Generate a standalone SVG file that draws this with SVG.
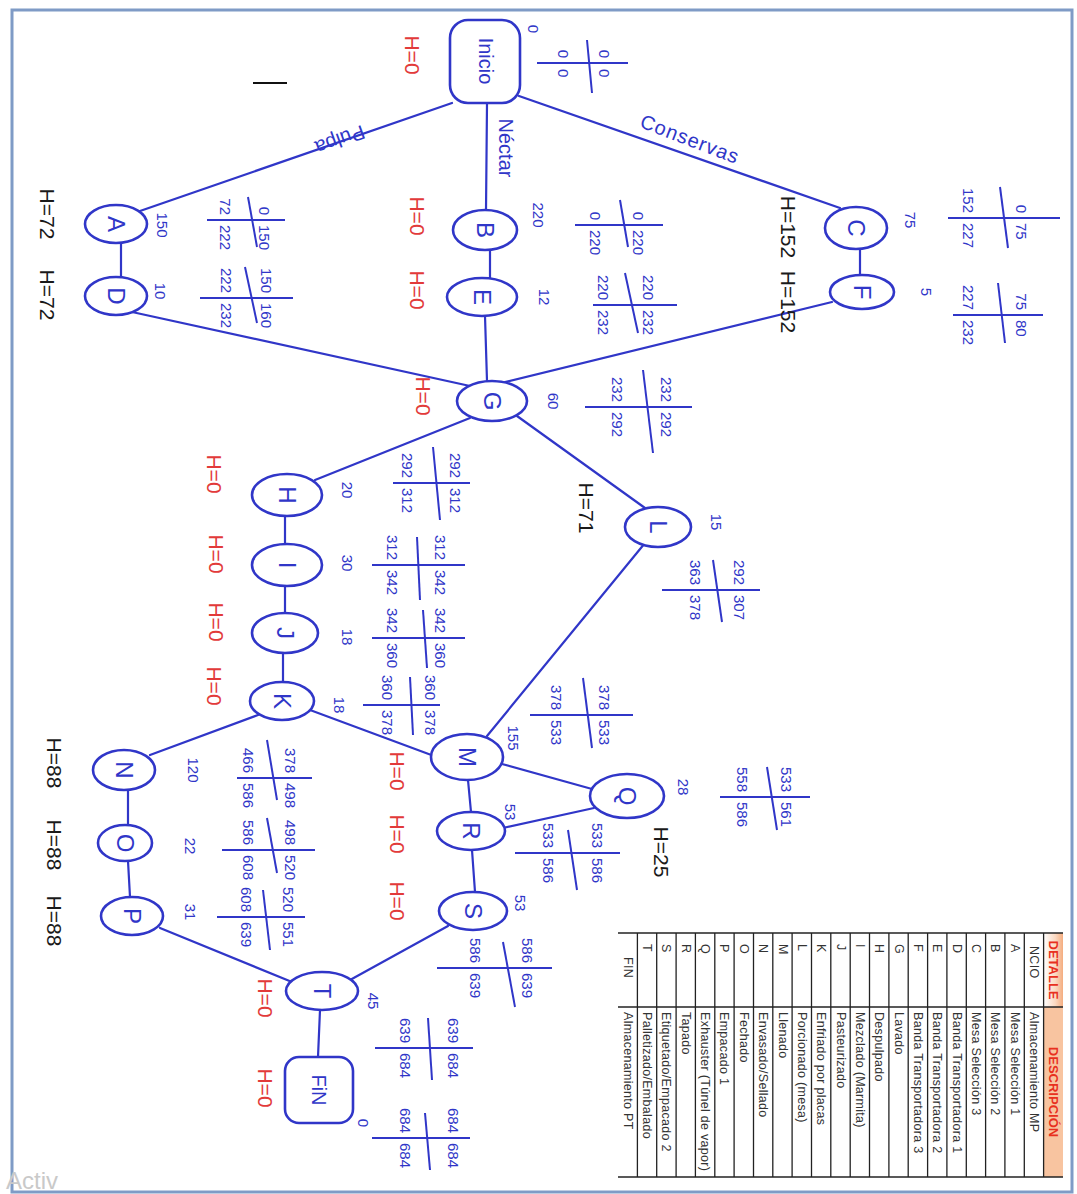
<svg xmlns="http://www.w3.org/2000/svg" width="1077" height="1194" viewBox="0 0 1077 1194">
<defs>
<linearGradient id="hdr" x1="0" y1="0" x2="1" y2="0"><stop offset="0" stop-color="#ffffff"/><stop offset="0.6" stop-color="#fbd9c2"/><stop offset="1" stop-color="#f4ad80"/></linearGradient>
</defs>
<style>
.edge{stroke:#3036c8;stroke-width:2.2;fill:none;stroke-linecap:round}
.node{fill:#fff;stroke:#3036c8;stroke-width:2.6}
.cr line{stroke:#3036c8;stroke-width:2}
text{font-family:"Liberation Sans",Arial,sans-serif;dominant-baseline:central}
.nm{fill:#3036c8;font-size:24px;text-anchor:middle}
.lb{fill:#3036c8;font-size:20px;text-anchor:middle}
.d{fill:#3036c8;font-size:15px;text-anchor:middle}
.n{fill:#3036c8;font-size:15px}
.t{text-anchor:end}
.s{text-anchor:start}
.hr{fill:#e23a3a;font-size:21px;text-anchor:middle}
.hk{fill:#1a1a1a;font-size:21px;text-anchor:middle}
.tb{fill:#333;font-size:12.5px;text-anchor:start;letter-spacing:0.3px}
.th{fill:#e8301e;font-size:13px;font-weight:bold;text-anchor:middle}
.tl{stroke:#222;stroke-width:1.3}
</style>
<rect x="0" y="0" width="1077" height="1194" fill="#fff"/>
<rect x="12" y="10" width="1060" height="1182" fill="none" stroke="#7f9bc6" stroke-width="3"/>
<line x1="253" y1="83" x2="287" y2="83" stroke="#111" stroke-width="2"/>
<text x="6" y="1180" fill="#c9c9c9" font-size="24">Activ</text>

<g id="connectors">
<line class="edge" x1="452" y1="103" x2="140" y2="211"/>
<line class="edge" x1="487" y1="104" x2="486" y2="210"/>
<line class="edge" x1="519" y1="96" x2="840" y2="208"/>
<line class="edge" x1="121" y1="243" x2="121" y2="277"/>
<line class="edge" x1="490" y1="250" x2="490" y2="278"/>
<line class="edge" x1="860" y1="250" x2="860" y2="277"/>
<line class="edge" x1="132" y1="312" x2="470" y2="386"/>
<line class="edge" x1="485" y1="316" x2="487" y2="381"/>
<line class="edge" x1="832" y1="302" x2="505" y2="382"/>
<line class="edge" x1="470" y1="418" x2="315" y2="480"/>
<line class="edge" x1="517" y1="416" x2="645" y2="508"/>
<line class="edge" x1="285" y1="517" x2="285" y2="543"/>
<line class="edge" x1="285" y1="587" x2="285" y2="613"/>
<line class="edge" x1="283" y1="653" x2="283" y2="682"/>
<line class="edge" x1="645" y1="543" x2="487" y2="736"/>
<line class="edge" x1="310" y1="710" x2="434" y2="756"/>
<line class="edge" x1="258" y1="715" x2="150" y2="755"/>
<line class="edge" x1="502" y1="764" x2="592" y2="789"/>
<line class="edge" x1="468" y1="780" x2="471" y2="812"/>
<line class="edge" x1="594" y1="808" x2="503" y2="828"/>
<line class="edge" x1="472" y1="850" x2="475" y2="892"/>
<line class="edge" x1="128" y1="790" x2="128" y2="825"/>
<line class="edge" x1="128" y1="861" x2="130" y2="897"/>
<line class="edge" x1="160" y1="928" x2="292" y2="982"/>
<line class="edge" x1="448" y1="926" x2="350" y2="980"/>
<line class="edge" x1="320" y1="1010" x2="318" y2="1057"/>
<text class="lb" transform="translate(340 140) rotate(160)">Pulpa</text>
<text class="lb" transform="translate(506 148) rotate(90)">Néctar</text>
<text class="lb" font-size="21" letter-spacing="1" transform="translate(690 139) rotate(21)">Conservas</text>
</g>

<g id="node-inicio">
<rect class="node" x="450" y="20" width="70" height="83" rx="18"/>
<text class="lb" font-size="21" transform="translate(486 61) rotate(90)">Inicio</text>
<text class="d" transform="translate(533 29) rotate(90)">0</text>
<text class="hr" transform="translate(412 55) rotate(90)">H=0</text>
<g class="cr"><line x1="537" y1="63" x2="628" y2="63"/><line x1="587" y1="40" x2="592" y2="93"/>
<text class="n t" transform="translate(563 58) rotate(90)">0</text><text class="n t" transform="translate(604 58) rotate(90)">0</text>
<text class="n s" transform="translate(563 69) rotate(90)">0</text><text class="n s" transform="translate(604 69) rotate(90)">0</text></g>
</g>

<g id="node-A">
<ellipse class="node" cx="116" cy="224" rx="31" ry="19"/>
<text class="nm" transform="translate(116 224) rotate(90)">A</text>
<text class="d" transform="translate(162 225) rotate(90)">150</text>
<text class="hk" transform="translate(47 214) rotate(90)">H=72</text>
<g class="cr"><line x1="207" y1="220" x2="285" y2="220"/><line x1="248" y1="197" x2="257" y2="247"/>
<text class="n t" transform="translate(225 215) rotate(90)">72</text><text class="n t" transform="translate(264 215) rotate(90)">0</text>
<text class="n s" transform="translate(225 225) rotate(90)">222</text><text class="n s" transform="translate(264 225) rotate(90)">150</text></g>
</g>

<g id="node-D">
<ellipse class="node" cx="116" cy="296" rx="31" ry="19"/>
<text class="nm" transform="translate(116 296) rotate(90)">D</text>
<text class="d" transform="translate(160 291) rotate(90)">10</text>
<text class="hk" transform="translate(47 295) rotate(90)">H=72</text>
<g class="cr"><line x1="200" y1="298" x2="293" y2="298"/><line x1="245" y1="267" x2="257" y2="323"/>
<text class="n t" transform="translate(226 293) rotate(90)">222</text><text class="n t" transform="translate(266 293) rotate(90)">150</text>
<text class="n s" transform="translate(226 303) rotate(90)">232</text><text class="n s" transform="translate(266 303) rotate(90)">160</text></g>
</g>

<g id="node-B">
<ellipse class="node" cx="485" cy="230" rx="32" ry="20"/>
<text class="nm" transform="translate(485 230) rotate(90)">B</text>
<text class="d" transform="translate(538 215) rotate(90)">220</text>
<text class="hr" transform="translate(417 216) rotate(90)">H=0</text>
<g class="cr"><line x1="575" y1="225" x2="663" y2="225"/><line x1="620" y1="200" x2="628" y2="247"/>
<text class="n t" transform="translate(595 220) rotate(90)">0</text><text class="n t" transform="translate(638 220) rotate(90)">0</text>
<text class="n s" transform="translate(595 230) rotate(90)">220</text><text class="n s" transform="translate(638 230) rotate(90)">220</text></g>
</g>

<g id="node-E">
<ellipse class="node" cx="482" cy="297" rx="35" ry="19"/>
<text class="nm" transform="translate(482 297) rotate(90)">E</text>
<text class="d" transform="translate(544 297) rotate(90)">12</text>
<text class="hr" transform="translate(417 290) rotate(90)">H=0</text>
<g class="cr"><line x1="593" y1="305" x2="677" y2="305"/><line x1="625" y1="273" x2="638" y2="333"/>
<text class="n t" transform="translate(603 300) rotate(90)">220</text><text class="n t" transform="translate(648 300) rotate(90)">220</text>
<text class="n s" transform="translate(603 310) rotate(90)">232</text><text class="n s" transform="translate(648 310) rotate(90)">232</text></g>
</g>

<g id="node-C">
<ellipse class="node" cx="856" cy="228" rx="31" ry="21"/>
<text class="nm" transform="translate(856 228) rotate(90)">C</text>
<text class="d" transform="translate(910 220) rotate(90)">75</text>
<text class="hk" transform="translate(788 227) rotate(90)">H=152</text>
<g class="cr"><line x1="948" y1="218" x2="1060" y2="218"/><line x1="1000" y1="187" x2="1008" y2="248"/>
<text class="n t" transform="translate(968 213) rotate(90)">152</text><text class="n t" transform="translate(1021 213) rotate(90)">0</text>
<text class="n s" transform="translate(968 223) rotate(90)">227</text><text class="n s" transform="translate(1021 223) rotate(90)">75</text></g>
</g>

<g id="node-F">
<ellipse class="node" cx="862" cy="292" rx="32" ry="17"/>
<text class="nm" transform="translate(862 292) rotate(90)">F</text>
<text class="d" transform="translate(926 292) rotate(90)">5</text>
<text class="hk" transform="translate(788 302) rotate(90)">H=152</text>
<g class="cr"><line x1="953" y1="315" x2="1043" y2="315"/><line x1="998" y1="283" x2="1005" y2="343"/>
<text class="n t" transform="translate(968 310) rotate(90)">227</text><text class="n t" transform="translate(1021 310) rotate(90)">75</text>
<text class="n s" transform="translate(968 320) rotate(90)">232</text><text class="n s" transform="translate(1021 320) rotate(90)">80</text></g>
</g>

<g id="node-G">
<ellipse class="node" cx="492" cy="401" rx="35" ry="20"/>
<text class="nm" transform="translate(492 401) rotate(90)">G</text>
<text class="d" transform="translate(553 401) rotate(90)">60</text>
<text class="hr" transform="translate(423 396) rotate(90)">H=0</text>
<g class="cr"><line x1="585" y1="407" x2="692" y2="407"/><line x1="643" y1="370" x2="653" y2="453"/>
<text class="n t" transform="translate(617 402) rotate(90)">232</text><text class="n t" transform="translate(666 402) rotate(90)">232</text>
<text class="n s" transform="translate(617 412) rotate(90)">292</text><text class="n s" transform="translate(666 412) rotate(90)">292</text></g>
</g>

<g id="node-L">
<ellipse class="node" cx="658" cy="527" rx="33" ry="20"/>
<text class="nm" transform="translate(658 527) rotate(90)">L</text>
<text class="d" transform="translate(716 522) rotate(90)">15</text>
<text class="hk" transform="translate(586 508) rotate(90)">H=71</text>
<g class="cr"><line x1="662" y1="590" x2="760" y2="590"/><line x1="713" y1="560" x2="722" y2="622"/>
<text class="n t" transform="translate(695 585) rotate(90)">363</text><text class="n t" transform="translate(739 585) rotate(90)">292</text>
<text class="n s" transform="translate(695 595) rotate(90)">378</text><text class="n s" transform="translate(739 595) rotate(90)">307</text></g>
</g>

<g id="node-H">
<ellipse class="node" cx="287" cy="495" rx="35" ry="21"/>
<text class="nm" transform="translate(287 495) rotate(90)">H</text>
<text class="d" transform="translate(347 490) rotate(90)">20</text>
<text class="hr" transform="translate(214 474) rotate(90)">H=0</text>
<g class="cr"><line x1="393" y1="483" x2="470" y2="483"/><line x1="433" y1="447" x2="440" y2="520"/>
<text class="n t" transform="translate(407 478) rotate(90)">292</text><text class="n t" transform="translate(455 478) rotate(90)">292</text>
<text class="n s" transform="translate(407 488) rotate(90)">312</text><text class="n s" transform="translate(455 488) rotate(90)">312</text></g>
</g>

<g id="node-I">
<ellipse class="node" cx="287" cy="565" rx="35" ry="21"/>
<text class="nm" transform="translate(287 565) rotate(90)">I</text>
<text class="d" transform="translate(347 563) rotate(90)">30</text>
<text class="hr" transform="translate(216 554) rotate(90)">H=0</text>
<g class="cr"><line x1="372" y1="565" x2="465" y2="565"/><line x1="417" y1="537" x2="420" y2="600"/>
<text class="n t" transform="translate(392 560) rotate(90)">312</text><text class="n t" transform="translate(440 560) rotate(90)">312</text>
<text class="n s" transform="translate(392 570) rotate(90)">342</text><text class="n s" transform="translate(440 570) rotate(90)">342</text></g>
</g>

<g id="node-J">
<ellipse class="node" cx="285" cy="633" rx="33" ry="20"/>
<text class="nm" transform="translate(285 633) rotate(90)">J</text>
<text class="d" transform="translate(347 637) rotate(90)">18</text>
<text class="hr" transform="translate(216 622) rotate(90)">H=0</text>
<g class="cr"><line x1="372" y1="638" x2="465" y2="638"/><line x1="423" y1="610" x2="427" y2="668"/>
<text class="n t" transform="translate(392 633) rotate(90)">342</text><text class="n t" transform="translate(440 633) rotate(90)">342</text>
<text class="n s" transform="translate(392 643) rotate(90)">360</text><text class="n s" transform="translate(440 643) rotate(90)">360</text></g>
</g>

<g id="node-K">
<ellipse class="node" cx="282" cy="701" rx="32" ry="19"/>
<text class="nm" transform="translate(282 701) rotate(90)">K</text>
<text class="d" transform="translate(339 705) rotate(90)">18</text>
<text class="hr" transform="translate(214 686) rotate(90)">H=0</text>
<g class="cr"><line x1="363" y1="705" x2="440" y2="705"/><line x1="410" y1="677" x2="413" y2="735"/>
<text class="n t" transform="translate(387 700) rotate(90)">360</text><text class="n t" transform="translate(430 700) rotate(90)">360</text>
<text class="n s" transform="translate(387 710) rotate(90)">378</text><text class="n s" transform="translate(430 710) rotate(90)">378</text></g>
</g>

<g id="node-M">
<ellipse class="node" cx="467" cy="757" rx="36" ry="23"/>
<text class="nm" transform="translate(467 757) rotate(90)">M</text>
<text class="d" transform="translate(513 738) rotate(90)">155</text>
<text class="hr" transform="translate(397 771) rotate(90)">H=0</text>
<g class="cr"><line x1="530" y1="715" x2="633" y2="715"/><line x1="583" y1="678" x2="592" y2="748"/>
<text class="n t" transform="translate(556 710) rotate(90)">378</text><text class="n t" transform="translate(604 710) rotate(90)">378</text>
<text class="n s" transform="translate(556 720) rotate(90)">533</text><text class="n s" transform="translate(604 720) rotate(90)">533</text></g>
</g>

<g id="node-Q">
<ellipse class="node" cx="627" cy="796" rx="37" ry="22"/>
<text class="nm" transform="translate(627 796) rotate(90)">Q</text>
<text class="d" transform="translate(683 787) rotate(90)">28</text>
<text class="hk" transform="translate(661 852) rotate(90)">H=25</text>
<g class="cr"><line x1="720" y1="797" x2="810" y2="797"/><line x1="767" y1="767" x2="777" y2="830"/>
<text class="n t" transform="translate(742 792) rotate(90)">558</text><text class="n t" transform="translate(786 792) rotate(90)">533</text>
<text class="n s" transform="translate(742 802) rotate(90)">586</text><text class="n s" transform="translate(786 802) rotate(90)">561</text></g>
</g>

<g id="node-R">
<ellipse class="node" cx="471" cy="831" rx="34" ry="19"/>
<text class="nm" transform="translate(471 831) rotate(90)">R</text>
<text class="d" transform="translate(510 812) rotate(90)">53</text>
<text class="hr" transform="translate(397 834) rotate(90)">H=0</text>
<g class="cr"><line x1="515" y1="853" x2="620" y2="853"/><line x1="568" y1="830" x2="577" y2="890"/>
<text class="n t" transform="translate(548 848) rotate(90)">533</text><text class="n t" transform="translate(597 848) rotate(90)">533</text>
<text class="n s" transform="translate(548 858) rotate(90)">586</text><text class="n s" transform="translate(597 858) rotate(90)">586</text></g>
</g>

<g id="node-S">
<ellipse class="node" cx="473" cy="911" rx="34" ry="19"/>
<text class="nm" transform="translate(473 911) rotate(90)">S</text>
<text class="d" transform="translate(520 903) rotate(90)">53</text>
<text class="hr" transform="translate(397 901) rotate(90)">H=0</text>
<g class="cr"><line x1="437" y1="968" x2="552" y2="968"/><line x1="503" y1="942" x2="515" y2="1007"/>
<text class="n t" transform="translate(475 963) rotate(90)">586</text><text class="n t" transform="translate(527 963) rotate(90)">586</text>
<text class="n s" transform="translate(475 973) rotate(90)">639</text><text class="n s" transform="translate(527 973) rotate(90)">639</text></g>
</g>

<g id="node-N">
<ellipse class="node" cx="124" cy="770" rx="31" ry="20"/>
<text class="nm" transform="translate(124 770) rotate(90)">N</text>
<text class="d" transform="translate(193 770) rotate(90)">120</text>
<text class="hk" transform="translate(54 763) rotate(90)">H=88</text>
<g class="cr"><line x1="237" y1="778" x2="312" y2="778"/><line x1="267" y1="740" x2="277" y2="800"/>
<text class="n t" transform="translate(248 773) rotate(90)">466</text><text class="n t" transform="translate(290 773) rotate(90)">378</text>
<text class="n s" transform="translate(248 783) rotate(90)">586</text><text class="n s" transform="translate(290 783) rotate(90)">498</text></g>
</g>

<g id="node-O">
<ellipse class="node" cx="125" cy="843" rx="27" ry="18"/>
<text class="nm" transform="translate(125 843) rotate(90)">O</text>
<text class="d" transform="translate(190 846) rotate(90)">22</text>
<text class="hk" transform="translate(54 845) rotate(90)">H=88</text>
<g class="cr"><line x1="222" y1="850" x2="315" y2="850"/><line x1="267" y1="818" x2="277" y2="873"/>
<text class="n t" transform="translate(248 845) rotate(90)">586</text><text class="n t" transform="translate(290 845) rotate(90)">498</text>
<text class="n s" transform="translate(248 855) rotate(90)">608</text><text class="n s" transform="translate(290 855) rotate(90)">520</text></g>
</g>

<g id="node-P">
<ellipse class="node" cx="132" cy="916" rx="31" ry="19"/>
<text class="nm" transform="translate(132 916) rotate(90)">P</text>
<text class="d" transform="translate(190 912) rotate(90)">31</text>
<text class="hk" transform="translate(54 921) rotate(90)">H=88</text>
<g class="cr"><line x1="217" y1="917" x2="305" y2="917"/><line x1="263" y1="890" x2="270" y2="950"/>
<text class="n t" transform="translate(246 912) rotate(90)">608</text><text class="n t" transform="translate(288 912) rotate(90)">520</text>
<text class="n s" transform="translate(246 922) rotate(90)">639</text><text class="n s" transform="translate(288 922) rotate(90)">551</text></g>
</g>

<g id="node-T">
<ellipse class="node" cx="322" cy="991" rx="36" ry="19"/>
<text class="nm" transform="translate(322 991) rotate(90)">T</text>
<text class="d" transform="translate(373 1001) rotate(90)">45</text>
<text class="hr" transform="translate(265 998) rotate(90)">H=0</text>
<g class="cr"><line x1="375" y1="1048" x2="473" y2="1048"/><line x1="428" y1="1018" x2="432" y2="1080"/>
<text class="n t" transform="translate(405 1043) rotate(90)">639</text><text class="n t" transform="translate(453 1043) rotate(90)">639</text>
<text class="n s" transform="translate(405 1053) rotate(90)">684</text><text class="n s" transform="translate(453 1053) rotate(90)">684</text></g>
</g>

<g id="node-fin">
<rect class="node" x="285" y="1057" width="68" height="66" rx="14"/>
<text class="lb" font-size="22" transform="translate(319 1090) rotate(90)">FiN</text>
<text class="d" transform="translate(363 1123) rotate(90)">0</text>
<text class="hr" transform="translate(265 1088) rotate(90)">H=0</text>
<g class="cr"><line x1="372" y1="1138" x2="470" y2="1138"/><line x1="425" y1="1113" x2="430" y2="1170"/>
<text class="n t" transform="translate(405 1133) rotate(90)">684</text><text class="n t" transform="translate(453 1133) rotate(90)">684</text>
<text class="n s" transform="translate(405 1143) rotate(90)">684</text><text class="n s" transform="translate(453 1143) rotate(90)">684</text></g>
</g>

<g id="table">
<rect x="1043.6" y="933" width="19.4" height="74" fill="url(#hdr)"/>
<rect x="1043.6" y="1007" width="19.4" height="170" fill="#f8c4a0"/>
<line class="tl" x1="618" y1="933" x2="1063" y2="933"/>
<line class="tl" x1="618" y1="1177" x2="1063" y2="1177"/>
<line class="tl" x1="618" y1="1007" x2="1063" y2="1007"/>
<g class="tl">
<line x1="1043.6" y1="933" x2="1043.6" y2="1177"/><line x1="1024.3" y1="933" x2="1024.3" y2="1177"/>
<line x1="1004.9" y1="933" x2="1004.9" y2="1177"/><line x1="985.6" y1="933" x2="985.6" y2="1177"/>
<line x1="966.3" y1="933" x2="966.3" y2="1177"/><line x1="946.9" y1="933" x2="946.9" y2="1177"/>
<line x1="927.6" y1="933" x2="927.6" y2="1177"/><line x1="908.2" y1="933" x2="908.2" y2="1177"/>
<line x1="888.9" y1="933" x2="888.9" y2="1177"/><line x1="869.5" y1="933" x2="869.5" y2="1177"/>
<line x1="850.2" y1="933" x2="850.2" y2="1177"/><line x1="830.8" y1="933" x2="830.8" y2="1177"/>
<line x1="811.5" y1="933" x2="811.5" y2="1177"/><line x1="792.1" y1="933" x2="792.1" y2="1177"/>
<line x1="772.8" y1="933" x2="772.8" y2="1177"/><line x1="753.5" y1="933" x2="753.5" y2="1177"/>
<line x1="734.1" y1="933" x2="734.1" y2="1177"/><line x1="714.8" y1="933" x2="714.8" y2="1177"/>
<line x1="695.4" y1="933" x2="695.4" y2="1177"/><line x1="676.1" y1="933" x2="676.1" y2="1177"/>
<line x1="656.7" y1="933" x2="656.7" y2="1177"/><line x1="637.4" y1="933" x2="637.4" y2="1177"/>
</g>
<text class="th" transform="translate(1053.3 970) rotate(90)">DETALLE</text>
<text class="th" transform="translate(1053.3 1092) rotate(90)">DESCRIPCIÓN</text>
<text class="tb" transform="translate(1034 946) rotate(90)">NCIO</text>
<text class="tb" transform="translate(1034 1012) rotate(90)">Almacenamiento MP</text>
<text class="tb" transform="translate(1014.6 944) rotate(90)">A</text>
<text class="tb" transform="translate(1014.6 1012) rotate(90)">Mesa Selección 1</text>
<text class="tb" transform="translate(995.3 944) rotate(90)">B</text>
<text class="tb" transform="translate(995.3 1012) rotate(90)">Mesa Selección 2</text>
<text class="tb" transform="translate(975.9 944) rotate(90)">C</text>
<text class="tb" transform="translate(975.9 1012) rotate(90)">Mesa Selección 3</text>
<text class="tb" transform="translate(956.6 944) rotate(90)">D</text>
<text class="tb" transform="translate(956.6 1012) rotate(90)">Banda Transportadora 1</text>
<text class="tb" transform="translate(937.2 944) rotate(90)">E</text>
<text class="tb" transform="translate(937.2 1012) rotate(90)">Banda Transportadora 2</text>
<text class="tb" transform="translate(917.9 944) rotate(90)">F</text>
<text class="tb" transform="translate(917.9 1012) rotate(90)">Banda Transportadora 3</text>
<text class="tb" transform="translate(898.5 944) rotate(90)">G</text>
<text class="tb" transform="translate(898.5 1012) rotate(90)">Lavado</text>
<text class="tb" transform="translate(879.2 944) rotate(90)">H</text>
<text class="tb" transform="translate(879.2 1012) rotate(90)">Despulpado</text>
<text class="tb" transform="translate(859.9 944) rotate(90)">I</text>
<text class="tb" transform="translate(859.9 1012) rotate(90)">Mezclado (Marmita)</text>
<text class="tb" transform="translate(840.5 944) rotate(90)">J</text>
<text class="tb" transform="translate(840.5 1012) rotate(90)">Pasteurizado</text>
<text class="tb" transform="translate(821.2 944) rotate(90)">K</text>
<text class="tb" transform="translate(821.2 1012) rotate(90)">Enfriado por placas</text>
<text class="tb" transform="translate(801.8 944) rotate(90)">L</text>
<text class="tb" transform="translate(801.8 1012) rotate(90)">Porcionado (mesa)</text>
<text class="tb" transform="translate(782.5 944) rotate(90)">M</text>
<text class="tb" transform="translate(782.5 1012) rotate(90)">Llenado</text>
<text class="tb" transform="translate(763.1 944) rotate(90)">N</text>
<text class="tb" transform="translate(763.1 1012) rotate(90)">Envasado/Sellado</text>
<text class="tb" transform="translate(743.8 944) rotate(90)">O</text>
<text class="tb" transform="translate(743.8 1012) rotate(90)">Fechado</text>
<text class="tb" transform="translate(724.4 944) rotate(90)">P</text>
<text class="tb" transform="translate(724.4 1012) rotate(90)">Empacado 1</text>
<text class="tb" transform="translate(705.1 944) rotate(90)">Q</text>
<text class="tb" transform="translate(705.1 1012) rotate(90)">Exhauster (Túnel de vapor)</text>
<text class="tb" transform="translate(685.8 944) rotate(90)">R</text>
<text class="tb" transform="translate(685.8 1012) rotate(90)">Tapado</text>
<text class="tb" transform="translate(666.4 944) rotate(90)">S</text>
<text class="tb" transform="translate(666.4 1012) rotate(90)">Etiquetado/Empacado 2</text>
<text class="tb" transform="translate(647.1 944) rotate(90)">T</text>
<text class="tb" transform="translate(647.1 1012) rotate(90)">Palletizado/Embalado</text>
<text class="tb" transform="translate(627.7 957) rotate(90)">FIN</text>
<text class="tb" transform="translate(627.7 1012) rotate(90)">Almacenamiento PT</text>
</g>
</svg>
